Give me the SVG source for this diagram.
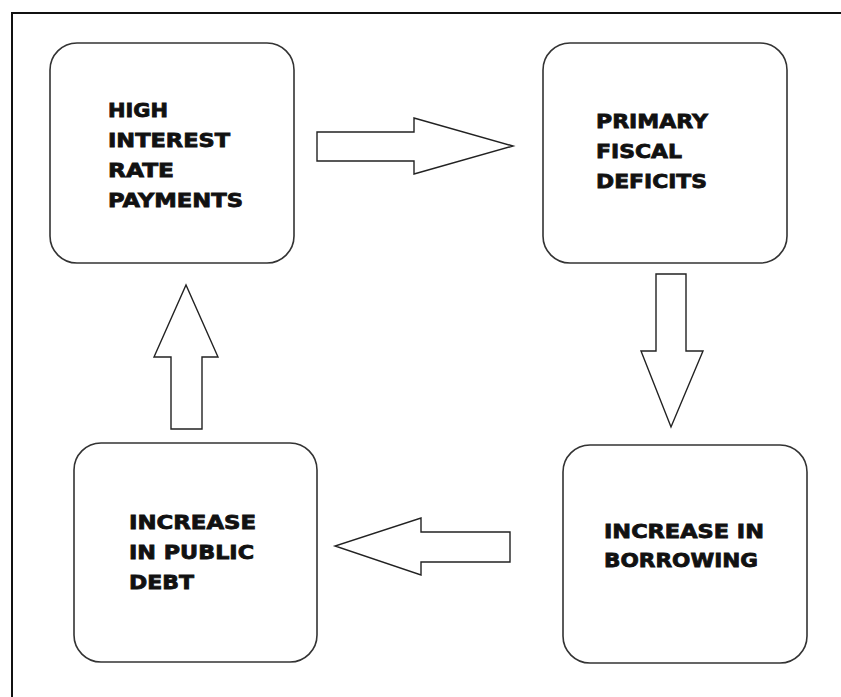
<svg xmlns="http://www.w3.org/2000/svg" width="841" height="697" viewBox="0 0 841 697">
<style>
.frame{fill:none;stroke:#111;stroke-width:2}
.box{fill:#fff;stroke:#333;stroke-width:1.6}
.arrow{fill:#fff;stroke:#222;stroke-width:1.4;stroke-linejoin:miter}
.t{font-family:"DejaVu Sans","Liberation Sans",sans-serif;font-weight:bold;font-size:19px;fill:#111;stroke:#111;stroke-width:0.8}
</style>
<rect width="841" height="697" fill="#fff"/>
<rect class="frame" x="12" y="13" width="840" height="700"/>
<g id="node-high-interest">
<rect class="box" x="50" y="43" width="244" height="220" rx="27" ry="27"/>
<text class="t" x="108" y="117" textLength="60" lengthAdjust="spacingAndGlyphs">HIGH</text>
<text class="t" x="108" y="147" textLength="122" lengthAdjust="spacingAndGlyphs">INTEREST</text>
<text class="t" x="108" y="177" textLength="66" lengthAdjust="spacingAndGlyphs">RATE</text>
<text class="t" x="108" y="207" textLength="135" lengthAdjust="spacingAndGlyphs">PAYMENTS</text>
</g>
<g id="node-primary-fiscal">
<rect class="box" x="543" y="43" width="244" height="220" rx="27" ry="27"/>
<text class="t" x="596" y="128" textLength="112" lengthAdjust="spacingAndGlyphs">PRIMARY</text>
<text class="t" x="596" y="158" textLength="86" lengthAdjust="spacingAndGlyphs">FISCAL</text>
<text class="t" x="596" y="188" textLength="111" lengthAdjust="spacingAndGlyphs">DEFICITS</text>
</g>
<g id="node-increase-borrowing">
<rect class="box" x="563" y="445" width="244" height="218" rx="27" ry="27"/>
<text class="t" x="604" y="538" textLength="160" lengthAdjust="spacingAndGlyphs">INCREASE IN</text>
<text class="t" x="604" y="567" textLength="154" lengthAdjust="spacingAndGlyphs">BORROWING</text>
</g>
<g id="node-increase-debt">
<rect class="box" x="74" y="443" width="243" height="219" rx="27" ry="27"/>
<text class="t" x="129" y="529" textLength="127" lengthAdjust="spacingAndGlyphs">INCREASE</text>
<text class="t" x="129" y="559" textLength="125" lengthAdjust="spacingAndGlyphs">IN PUBLIC</text>
<text class="t" x="129" y="589" textLength="65" lengthAdjust="spacingAndGlyphs">DEBT</text>
</g>
<g id="connectors">
<polygon class="arrow" points="317,132 414,132 414,118 513,146 414,174 414,161 317,161"/>
<polygon class="arrow" points="656,274 686,274 686,351 703,351 671,427 641,351 656,351"/>
<polygon class="arrow" points="510,532 421,532 421,518 335,546 421,575 421,562 510,562"/>
<polygon class="arrow" points="171,429 171,357 154,357 186,285 218,357 202,357 202,429"/>
</g>
</svg>
